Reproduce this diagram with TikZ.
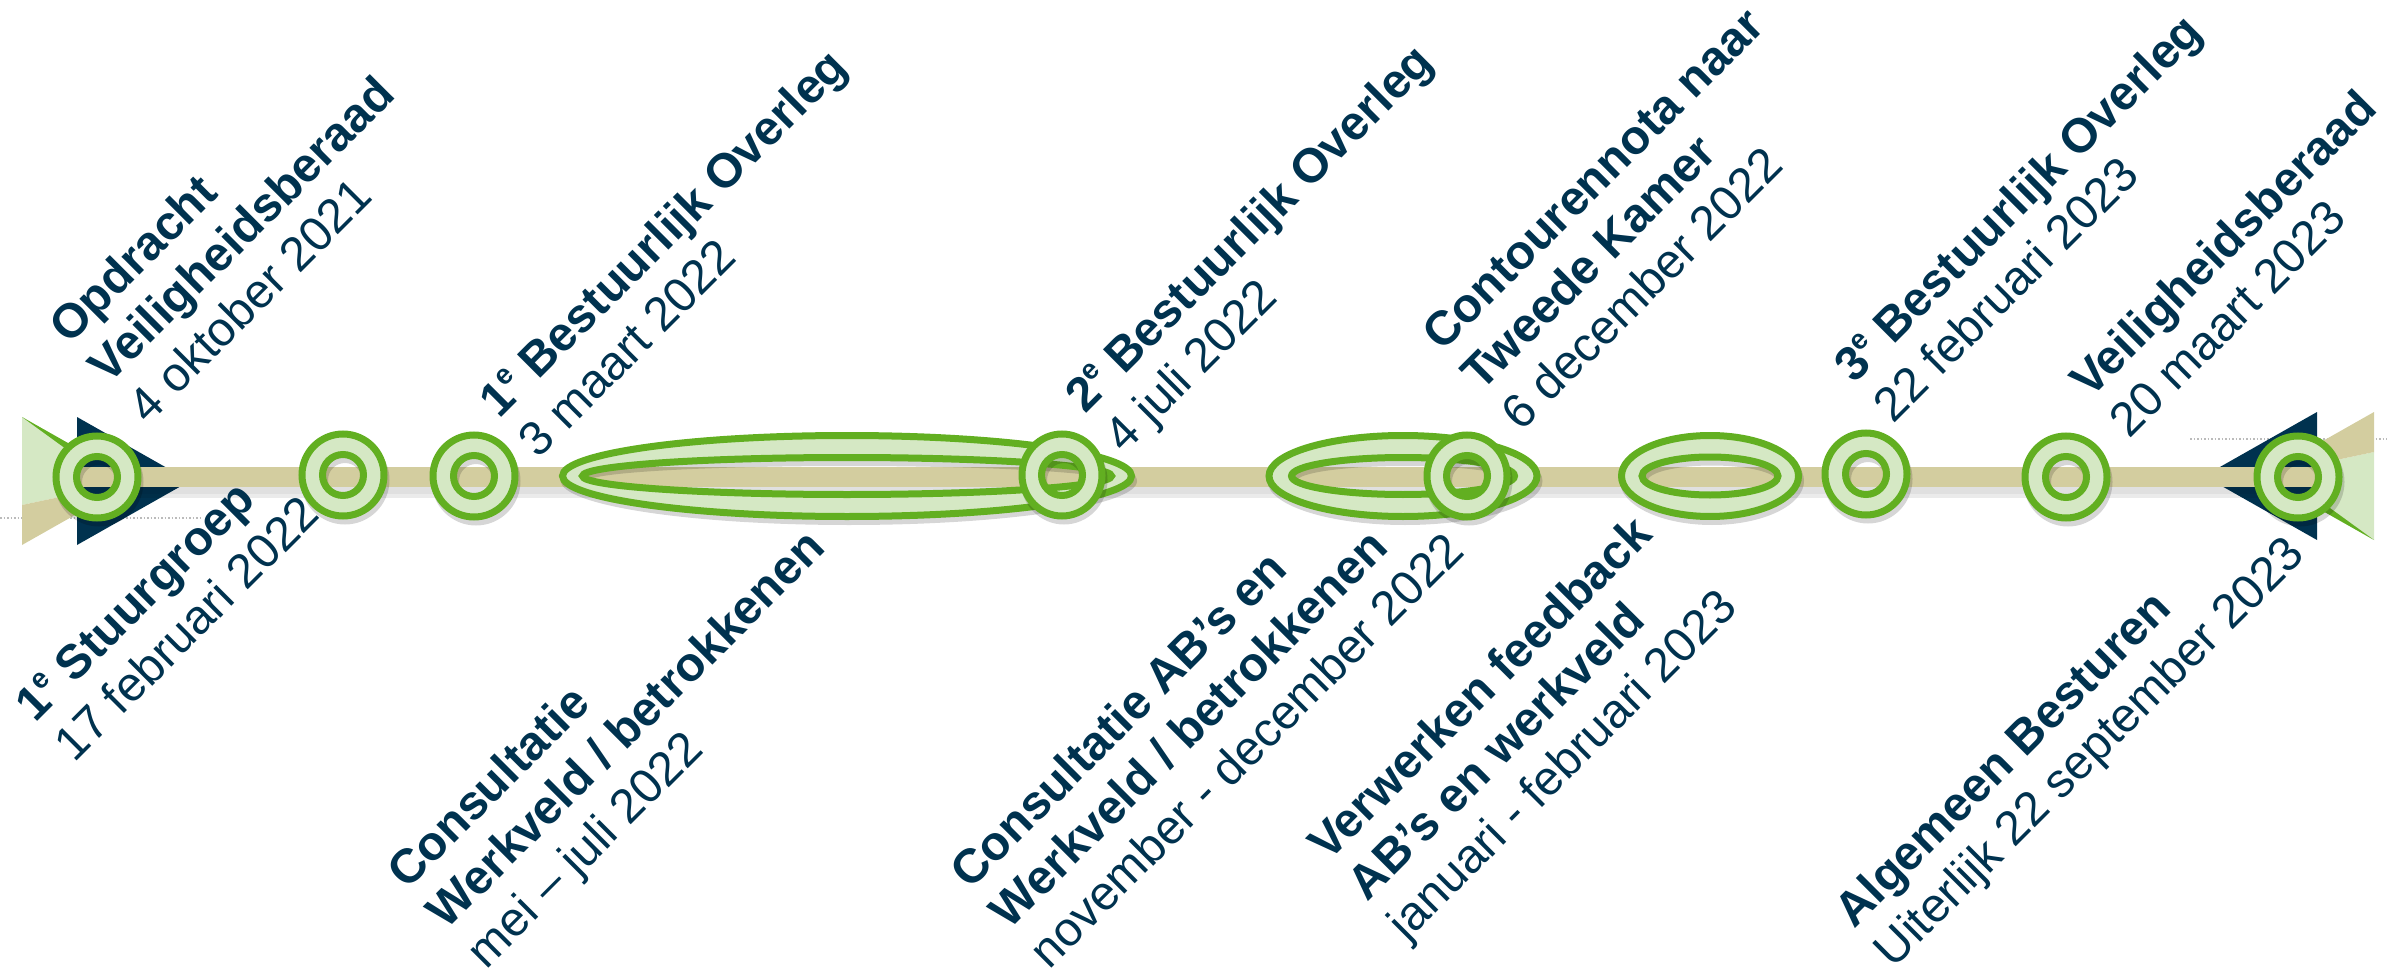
\documentclass[tikz,border=0pt]{standalone}
\usepackage{fontspec}
\setmainfont{Liberation Sans}
\definecolor{navy}{HTML}{00324F}
\definecolor{ringgreen}{HTML}{62AF21}
\definecolor{ringfill}{HTML}{D5E8C4}
\definecolor{bartan}{HTML}{D3CD9F}
\definecolor{dotgray}{HTML}{BBBBBB}
\newcommand\myesup{\raisebox{19pt}{\fontsize{28}{28}\selectfont e}}
\newcommand\ringshape[6]{%
  \fill[black, opacity=0.16, even odd rule] (#1+2,#2+5) ellipse [x radius=#3+3.5, y radius=#4+3.5] (#1+2,#2+5) ellipse [x radius=#5-3.5, y radius=#6-3.5];
  \path[ringstyle] (#1,#2) ellipse [x radius=#3, y radius=#4] (#1,#2) ellipse [x radius=#5, y radius=#6];
}
\begin{document}
\begin{tikzpicture}[x=1pt,y=-1pt,
  lbl/.style={rotate=45, anchor=base west, inner sep=0pt, text=navy, font=\fontsize{48}{54}\selectfont},
  hd/.style={rotate=45, anchor=base west, inner sep=0pt, text=navy, font=\fontsize{48}{54}\selectfont\bfseries},
  ringstyle/.style={draw=ringgreen, fill=ringfill, line width=7pt, even odd rule},
  dotline/.style={dotgray, dotted, line width=1.5pt}]
\useasboundingbox (0,0) rectangle (2387,973);

% dotted guide lines
\coordinate (dl1) at (0,518);   \coordinate (dl2) at (202,518);
\coordinate (dr1) at (2190,439); \coordinate (dr2) at (2387,439);
\draw[dotline] (dl1) -- (dl2);
\draw[dotline] (dr1) -- (dr2);

% left arrowhead (3D, light)
\fill[ringfill] (22,417) -- (135,481) -- (22,505) -- cycle;
\fill[bartan] (22,505) -- (135,481) -- (22,545) -- cycle;
\fill[ringgreen] (22,417) -- (135,481) -- (95,470) -- cycle;
% right arrowhead (3D, light)
\fill[ringfill] (2374,540) -- (2261,476) -- (2374,452) -- cycle;
\fill[bartan] (2374,452) -- (2261,476) -- (2374,412) -- cycle;
\fill[ringgreen] (2374,540) -- (2261,476) -- (2301,487) -- cycle;
% navy arrowheads
\fill[navy] (77,417) -- (190,481) -- (77,545) -- cycle;
\fill[navy] (2317,412) -- (2204,476) -- (2317,540) -- cycle;

% main bar with shadow
\fill[black, opacity=0.12] (77,487) rectangle (2317,494);
\fill[black, opacity=0.08] (77,494) rectangle (2317,498);
\fill[bartan] (77,467) rectangle (2317,487);

% periods (ellipses)
\ringshape{847}{476}{284.5}{40.5}{264.5}{18.5}
\ringshape{1403}{476}{134}{40.5}{111.5}{18.5}
\ringshape{1710}{476}{88.5}{40.5}{68}{19}

% milestones (circles)
\ringshape{97}{477}{41}{41}{20.5}{20.5}
\ringshape{343}{475}{41}{41}{20.5}{20.5}
\ringshape{474}{476}{41}{41}{20.5}{20.5}
\ringshape{1062}{475}{40}{41}{20.5}{20.5}
\ringshape{1467}{476}{40}{41}{20.5}{20.5}
\ringshape{1866}{474}{41}{41}{20.5}{20.5}
\ringshape{2066}{477}{41}{41}{20.5}{20.5}
\ringshape{2298}{477}{41}{41}{20.5}{20.5}

% top labels
\node[hd]  (t1a) at (69,346)   {Opdracht};
\node[hd]  (t1b) at (108.6,385.6) {Veiligheidsberaad};
\node[lbl] (t1c) at (148.2,425.2) {4 oktober 2021};

\node[hd]  (t2a) at (499,420) {1\myesup{} Bestuurlijk Overleg};
\node[lbl] (t2b) at (538.6,459.6) {3 maart 2022};

\node[hd]  (t3a) at (1085,415) {2\myesup{} Bestuurlijk Overleg};
\node[lbl] (t3b) at (1124.6,454.6) {4 juli 2022};

\node[hd]  (t4a) at (1442,353) {Contourennota naar};
\node[hd]  (t4b) at (1481.6,392.6) {Tweede Kamer};
\node[lbl] (t4c) at (1521.2,432.2) {6 december 2022};

\node[hd]  (t5a) at (1854,385) {3\myesup{} Bestuurlijk Overleg};
\node[lbl] (t5b) at (1893.6,424.6) {22 februari 2023};

\node[hd]  (t6a) at (2090,400) {Veiligheidsberaad};
\node[lbl] (t6b) at (2129.6,439.6) {20 maart 2023};

% bottom labels
\node[hd]  (b1a) at (35,724) {1\myesup{} Stuurgroep};
\node[lbl] (b1b) at (74.6,763.6) {17 februari 2022};

\node[hd]  (b2a) at (407,891) {Consultatie};
\node[hd]  (b2b) at (446.6,930.6) {Werkveld / betrokkenen};
\node[lbl] (b2c) at (486.2,970.2) {mei – juli 2022};

\node[hd]  (b3a) at (970,891) {Consultatie AB’s en};
\node[hd]  (b3b) at (1009.6,930.6) {Werkveld / betrokkenen};
\node[lbl] (b3c) at (1049.2,970.2) {november - december 2022};

\node[hd]  (b4a) at (1328,863) {Verwerken feedback};
\node[hd]  (b4b) at (1367.6,902.6) {AB’s en werkveld};
\node[lbl] (b4c) at (1407.2,942.2) {januari - februari 2023};

\node[hd]  (b5a) at (1854,930) {Algemeen Besturen};
\node[lbl] (b5b) at (1893.6,969.6) {Uiterlijk 22 september 2023};
\end{tikzpicture}
\end{document}
